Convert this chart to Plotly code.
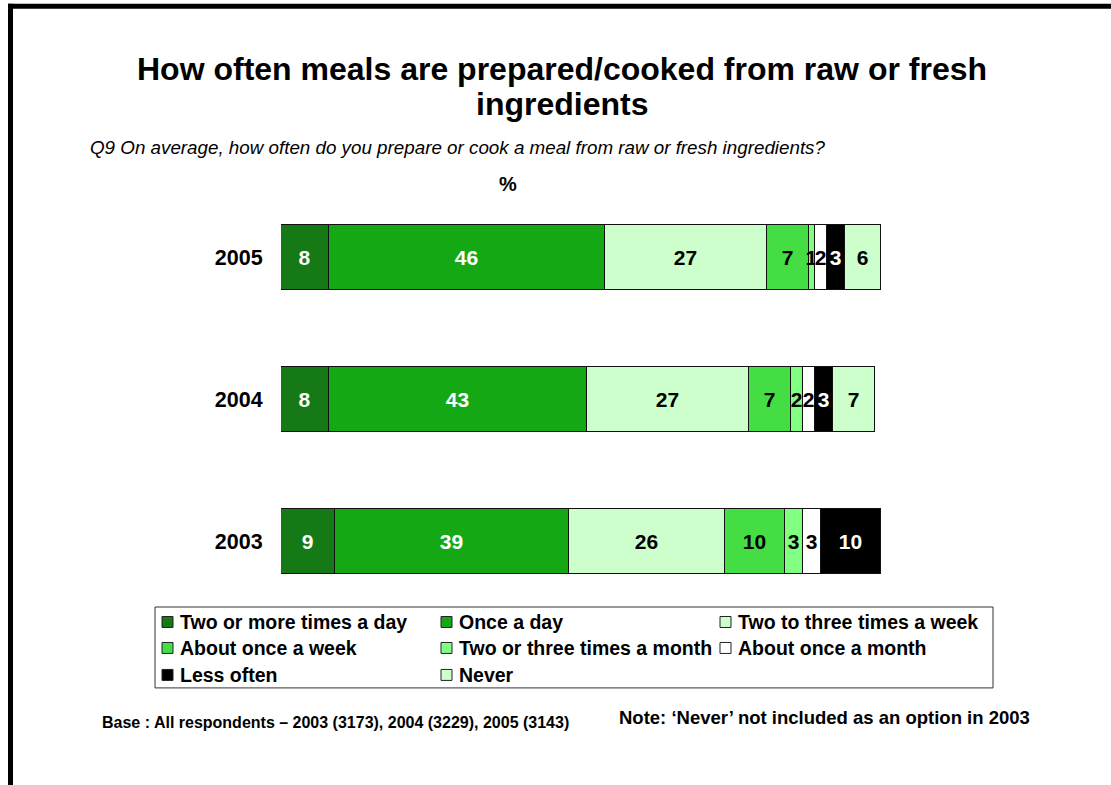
import plotly.graph_objects as go

# Survey years (bottom to top) and response categories
years = ["2003", "2004", "2005"]
categories = [
    "Two or more times a day",
    "Once a day",
    "Two to three times a week",
    "About once a week",
    "Two or three times a month",
    "About once a month",
    "Less often",
    "Never",
]

# Percentages per category, ordered as years (2003, 2004, 2005)
two_or_more_daily = [9, 8, 8]
once_a_day = [39, 43, 46]
two_three_weekly = [26, 27, 27]
once_a_week = [10, 7, 7]
two_three_monthly = [3, 2, 1]
once_a_month = [3, 2, 2]
less_often = [10, 3, 3]
never = [None, 7, 6]  # not offered as an option in 2003

series_values = [
    two_or_more_daily, once_a_day, two_three_weekly, once_a_week,
    two_three_monthly, once_a_month, less_often, never,
]

fill_colors = ["#157915", "#15a815", "#ccffcc", "#44dd44",
               "#80ff80", "#ffffff", "#000000", "#ccffcc"]
text_colors = ["#ffffff", "#ffffff", "#000000", "#000000",
               "#000000", "#000000", "#ffffff", "#000000"]

W, H = 1111, 785
L, R = 281, 881           # plot area in pixels
T, B = 186.5, 612


def px(x):
    return (x - L) / (R - L)


def py(y):
    return (B - y) / (B - T)


FONT = "Liberation Sans, Arial, sans-serif"

fig = go.Figure()
for name, vals, fc, tc in zip(categories, series_values, fill_colors, text_colors):
    fig.add_trace(go.Bar(
        name=name,
        y=years,
        x=vals,
        orientation="h",
        marker=dict(color=fc, line=dict(color="#111111", width=1)),
        text=["" if v is None else str(v) for v in vals],
        textposition="inside",
        insidetextanchor="middle",
        textangle=0,
        textfont=dict(family=FONT, size=21, color=tc, weight="bold"),
        width=0.458,
        showlegend=False,
        hoverinfo="name+x",
    ))

shapes = []
annotations = []

# Page frame (top and left rules)
shapes.append(dict(type="rect", xref="paper", yref="paper",
                   x0=px(8), x1=px(W + 5), y0=py(8), y1=py(3),
                   fillcolor="#000000", line=dict(width=0)))
shapes.append(dict(type="rect", xref="paper", yref="paper",
                   x0=px(8), x1=px(13), y0=py(H + 5), y1=py(3),
                   fillcolor="#000000", line=dict(width=0)))

# Title (two lines), question and unit
for line_text, ly in [("How often meals are prepared/cooked from raw or fresh", 68),
                      ("ingredients", 103)]:
    annotations.append(dict(
        text="<b>" + line_text + "</b>",
        xref="paper", yref="paper", x=px(562), y=py(ly), xanchor="center", yanchor="middle",
        showarrow=False, font=dict(family=FONT, size=32, color="#000000")))
annotations.append(dict(
    text="<i>Q9 On average, how often do you prepare or cook a meal from raw or fresh ingredients?</i>",
    xref="paper", yref="paper", x=px(88), y=py(147), xanchor="left", yanchor="middle",
    showarrow=False, font=dict(family=FONT, size=18.8, color="#000000")))
annotations.append(dict(
    text="<b>%</b>", xref="paper", yref="paper", x=px(508), y=py(183),
    xanchor="center", yanchor="middle", showarrow=False,
    font=dict(family=FONT, size=20, color="#000000")))

# Legend box with three columns, filled row by row
lx0, ly0, lx1, ly1 = 155, 607, 993, 688
shapes.append(dict(type="rect", xref="paper", yref="paper",
                   x0=px(lx0), x1=px(lx1), y0=py(ly1), y1=py(ly0),
                   fillcolor="rgba(0,0,0,0)", line=dict(color="#333333", width=1)))
col_x = [162, 441, 720]
row_y = [622, 648, 675]
for i, (name, fc) in enumerate(zip(categories, fill_colors)):
    cx = col_x[i % 3]
    cy = row_y[i // 3]
    shapes.append(dict(type="rect", xref="paper", yref="paper",
                       x0=px(cx), x1=px(cx + 11), y0=py(cy + 5.5), y1=py(cy - 5.5),
                       fillcolor=fc, line=dict(color="#222222", width=1)))
    annotations.append(dict(
        text="<b>" + name + "</b>", xref="paper", yref="paper",
        x=px(cx + 16), y=py(cy), xanchor="left", yanchor="middle", showarrow=False,
        font=dict(family=FONT, size=19.5, color="#000000")))

# Footnotes
annotations.append(dict(
    text="<b>Base : All respondents \u2013 2003 (3173), 2004 (3229), 2005 (3143)</b>",
    xref="paper", yref="paper", x=px(100), y=py(723), xanchor="left", yanchor="middle",
    showarrow=False, font=dict(family=FONT, size=16, color="#000000")))
annotations.append(dict(
    text="<b>Note: \u2018Never\u2019 not included as an option in 2003</b>",
    xref="paper", yref="paper", x=px(617), y=py(718), xanchor="left", yanchor="middle",
    showarrow=False, font=dict(family=FONT, size=18.5, color="#000000")))

fig.update_layout(
    width=W, height=H,
    margin=dict(l=L, r=W - R, t=T, b=H - B, pad=0),
    barmode="stack",
    bargap=0,
    paper_bgcolor="#ffffff",
    plot_bgcolor="#ffffff",
    uniformtext=dict(minsize=21, mode="show"),
    shapes=shapes,
    annotations=annotations,
    xaxis=dict(range=[0, 100], visible=False, fixedrange=True),
    yaxis=dict(
        type="category", categoryorder="array", categoryarray=years,
        range=[-0.5, 2.5], showgrid=False, zeroline=False, showline=False,
        ticks="outside", ticklen=13, tickcolor="rgba(0,0,0,0)",
        tickfont=dict(family=FONT, size=21.5, color="#000000", weight="bold"),
        fixedrange=True,
    ),
    showlegend=False,
)

fig.write_html("out.html")
